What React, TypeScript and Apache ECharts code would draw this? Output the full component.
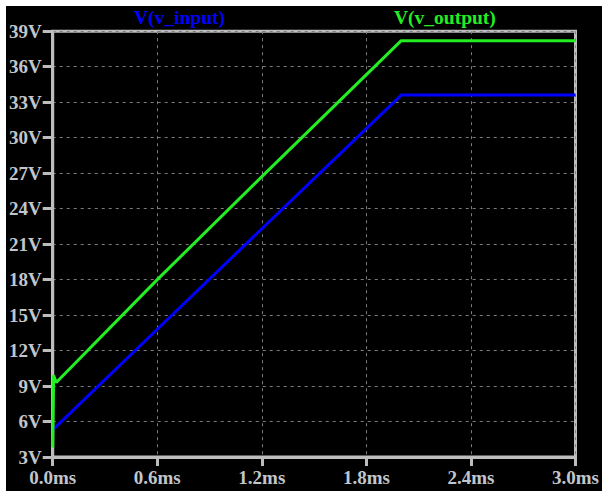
import React, { useEffect, useRef } from "react";
import * as echarts from "echarts";

// Time axis (ms) and voltage (V) samples for each trace
const inputTime = [0, 0.6, 1.2, 2.0, 3.0];
const inputVolts = [5.3, 13.8, 22.3, 33.6, 33.6];

const outputTime = [0, 0.005, 0.02, 0.6, 1.2, 2.0, 3.0];
const outputVolts = [3.8, 9.9, 9.3, 18.0, 26.7, 38.2, 38.2];

const seriesNames = ["V(v_input)", "V(v_output)"];
const seriesColors = ["#0000ff", "#22ee22"];

const FONT = '"Liberation Serif", "Times New Roman", serif';
const AXIS_GRAY = "#bdbdbd";
const LABEL_COLOR = "#c2c6cc";

export default function App() {
  const ref = useRef<HTMLDivElement>(null);

  useEffect(() => {
    document.body.style.margin = "0";
    if (!ref.current) return;
    const chart = echarts.init(ref.current, null, { renderer: "svg" });

    const toPairs = (t: number[], v: number[]) => t.map((x, i) => [x, v[i]]);

    chart.setOption({
      animation: false,
      backgroundColor: "#000000",
      grid: {
        left: 45,
        top: 25.2,
        right: 19.3,
        bottom: 34,
        show: true,
        borderColor: AXIS_GRAY,
        borderWidth: 3,
        backgroundColor: "transparent",
      },
      graphic: [
        {
          type: "text",
          left: 128,
          top: 1,
          style: {
            text: seriesNames[0],
            fill: seriesColors[0],
            font: `bold 19.5px ${FONT}`,
          },
        },
        {
          type: "text",
          left: 388,
          top: 1,
          style: {
            text: seriesNames[1],
            fill: seriesColors[1],
            font: `bold 19.5px ${FONT}`,
          },
        },
      ],
      xAxis: {
        type: "value",
        min: 0,
        max: 3.0,
        interval: 0.6,
        axisLine: { show: true, lineStyle: { color: AXIS_GRAY, width: 3 } },
        axisTick: {
          show: true,
          inside: false,
          length: 9,
          lineStyle: { color: AXIS_GRAY, width: 3 },
        },
        axisLabel: {
          color: LABEL_COLOR,
          fontFamily: FONT,
          fontWeight: "bold",
          fontSize: 19,
          margin: 11,
          formatter: (v: number) => `${v.toFixed(1)}ms`,
        },
        splitLine: {
          show: true,
          lineStyle: { color: "#7c7c7c", width: 1, type: [3, 4] },
        },
      },
      yAxis: {
        type: "value",
        min: 3,
        max: 39,
        interval: 3,
        axisLine: { show: true, lineStyle: { color: AXIS_GRAY, width: 3 } },
        axisTick: {
          show: true,
          inside: false,
          length: 10,
          lineStyle: { color: AXIS_GRAY, width: 3 },
        },
        axisLabel: {
          color: LABEL_COLOR,
          fontFamily: FONT,
          fontWeight: "bold",
          fontSize: 19,
          margin: 11,
          formatter: (v: number) => `${v}V`,
        },
        splitLine: {
          show: true,
          lineStyle: { color: "#7c7c7c", width: 1, type: [3, 4] },
        },
      },
      series: [
        {
          name: seriesNames[0],
          type: "line",
          data: toPairs(inputTime, inputVolts),
          showSymbol: false,
          lineStyle: { color: seriesColors[0], width: 3 },
          z: 3,
        },
        {
          name: seriesNames[1],
          type: "line",
          data: toPairs(outputTime, outputVolts),
          showSymbol: false,
          lineStyle: { color: seriesColors[1], width: 3 },
          z: 4,
        },
      ],
    });

    return () => chart.dispose();
  }, []);

  return (
    <div
      style={{
        position: "fixed",
        left: 0,
        top: 0,
        width: 602,
        height: 491,
        background: "#ffffff",
      }}
    >
      <div
        ref={ref}
        style={{ position: "absolute", left: 6, top: 6, width: 596, height: 485 }}
      />
    </div>
  );
}
